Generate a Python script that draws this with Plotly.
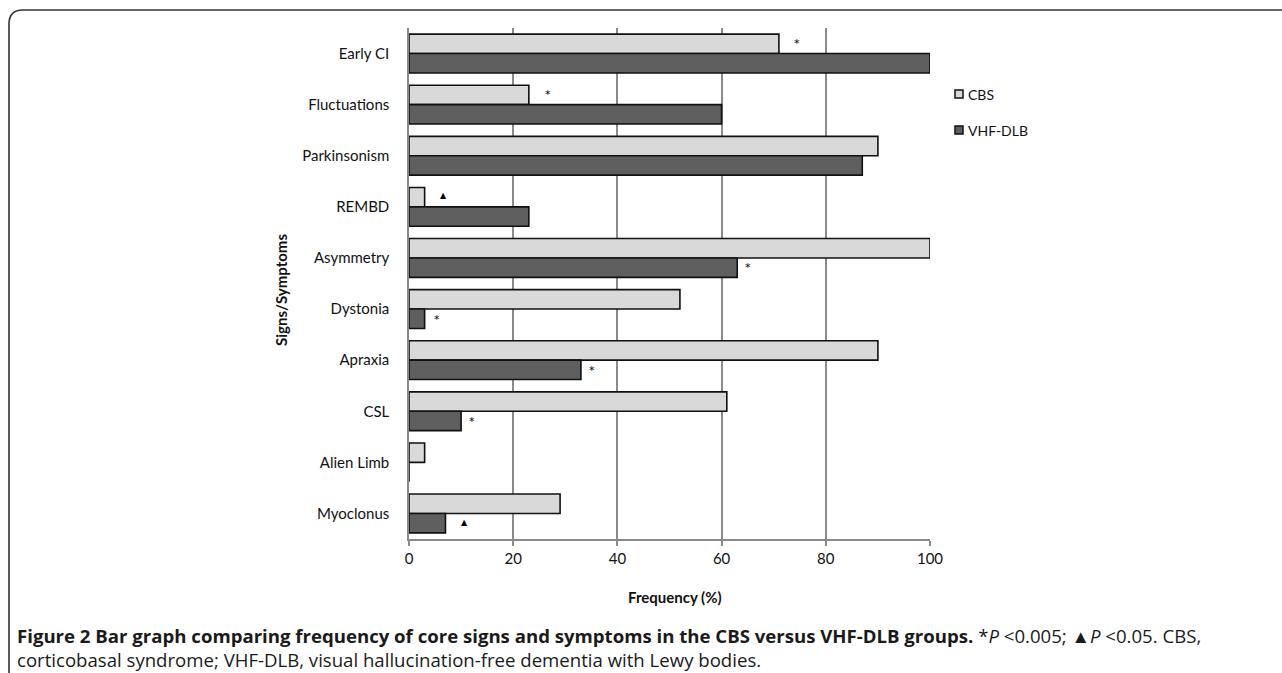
import plotly.graph_objects as go

categories = ["Early CI", "Fluctuations", "Parkinsonism", "REMBD", "Asymmetry",
              "Dystonia", "Apraxia", "CSL", "Alien Limb", "Myoclonus"]
cbs_values = [71, 23, 90, 3, 100, 52, 90, 61, 3, 29]
vhf_values = [100, 60, 87, 23, 63, 3, 33, 10, 0, 7]
series_names = ["CBS", "VHF-DLB"]
x_ticks = [0, 20, 40, 60, 80, 100]

# significance markers: (category, series, symbol)
sig_category = ["Early CI", "Fluctuations", "REMBD", "Asymmetry", "Dystonia",
                "Apraxia", "CSL", "Myoclonus"]
sig_series = ["CBS", "CBS", "CBS", "VHF-DLB", "VHF-DLB", "VHF-DLB", "VHF-DLB", "VHF-DLB"]
sig_symbol = ["*", "*", "▲", "*", "*", "*", "*", "▲"]
sig_pixel_gap = [18, 19, 19, 11, 12, 11, 11, 19]

W, H = 1282, 673
L, R, T, B = 409, 930, 28, 539
pw, ph = R - L, B - T

def px(x):
    return (x - L) / pw

def py(y):
    return (B - y) / ph

fig = go.Figure()
colors = {"CBS": "#d9d9d9", "VHF-DLB": "#5f5f5f"}
values = {"CBS": cbs_values, "VHF-DLB": vhf_values}
for name in series_names:
    fig.add_trace(go.Bar(
        y=categories, x=values[name], name=name, orientation="h",
        marker=dict(color=colors[name], line=dict(color="#111111", width=1.6)),
        showlegend=False,
    ))

annotations = []
for cat, ser, sym, gap in zip(sig_category, sig_series, sig_symbol, sig_pixel_gap):
    v = values[ser][categories.index(cat)]
    annotations.append(dict(
        x=v, y=cat, xref="x", yref="y", text=sym, showarrow=False,
        xanchor="center", yanchor="middle",
        xshift=gap, yshift=(10 if ser == "CBS" else -10) + (0 if sym == "*" else 1),
        font=dict(family="DejaVu Sans", size=11 if sym == "*" else 8, color="#000000"),
    ))

shapes = []
# custom legend (small squares like the original)
legend_y = [94, 130]
for name, ly in zip(series_names, legend_y):
    shapes.append(dict(type="rect", xref="paper", yref="paper",
                       x0=px(955), x1=px(963), y0=py(ly - 4), y1=py(ly + 4),
                       fillcolor=colors[name], line=dict(color="#111111", width=1.5)))
    annotations.append(dict(x=px(966), y=py(ly), xref="paper", yref="paper", text=name,
                            showarrow=False, xanchor="left", yanchor="middle",
                            font=dict(family="Lato", size=14, color="#111111")))

# axis titles
annotations.append(dict(
    x=px(281), y=py(290), xref="paper", yref="paper", text="<b>Signs/Symptoms</b>",
    showarrow=False, textangle=-90, xanchor="center", yanchor="middle",
    font=dict(family="Lato", size=15, color="#111111"),
))
annotations.append(dict(
    x=px(675), y=py(597), xref="paper", yref="paper", text="<b>Frequency (%)</b>",
    showarrow=False, xanchor="center", yanchor="middle",
    font=dict(family="Lato", size=15, color="#111111"),
))
# caption
annotations.append(dict(
    x=px(15), y=py(635), xref="paper", yref="paper", xanchor="left", yanchor="middle",
    text="<b>Figure 2 Bar graph comparing frequency of core signs and symptoms in the CBS versus VHF-DLB groups.</b> *<i>P</i> &lt;0.005; ▲<i>P</i> &lt;0.05. CBS,",
    showarrow=False, font=dict(family="Open Sans", size=18.6, color="#1a1a1a"),
))
annotations.append(dict(
    x=px(15), y=py(659), xref="paper", yref="paper", xanchor="left", yanchor="middle",
    text="corticobasal syndrome; VHF-DLB, visual hallucination-free dementia with Lewy bodies.",
    showarrow=False, font=dict(family="Open Sans", size=18.6, color="#1a1a1a"),
))

shapes.append(dict(
    type="path", xref="paper", yref="paper",
    path=f"M {px(9)},{py(700)} L {px(9)},{py(24)} Q {px(9)},{py(10)} {px(23)},{py(10)} L {px(1300)},{py(10)}",
    line=dict(color="#333333", width=1.6),
))

fig.update_layout(
    width=W, height=H,
    margin=dict(l=L, r=W - R, t=T, b=H - B, pad=0),
    paper_bgcolor="white", plot_bgcolor="white",
    barmode="group", bargap=0.24, bargroupgap=0,
    font=dict(family="Lato", size=15, color="#111111"),
    xaxis=dict(range=[0, 100], tickvals=x_ticks, showgrid=True, gridcolor="#8a8a8a",
               gridwidth=1.5, showline=True, linecolor="#8a8a8a", linewidth=1.5,
               ticks="outside", ticklen=5, tickcolor="#8a8a8a", tickwidth=1.5,
               zeroline=False, tickfont=dict(size=15), fixedrange=True),
    yaxis=dict(autorange="reversed", showline=True, linecolor="#8a8a8a", linewidth=1.5,
               showgrid=False, ticks="outside", ticklen=0, ticklabelstandoff=15,
               tickfont=dict(size=15), fixedrange=True),
    annotations=annotations, shapes=shapes,
    showlegend=False,
)

fig.write_html("out.html", config={"displayModeBar": False},
               post_script="document.body.style.margin='0';document.body.style.overflow='hidden';")
